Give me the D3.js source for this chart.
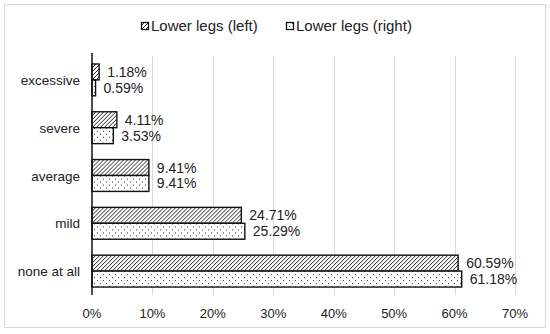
<!DOCTYPE html>
<html>
<head>
<meta charset="utf-8">
<script src="https://cdn.jsdelivr.net/npm/d3@7"></script>
<style>
  body { margin: 0; background: #fff; }
  text { font-family: "Liberation Sans", Arial, sans-serif; fill: #222; }
</style>
</head>
<body>
<div id="chart"></div>
<script>
var categories = ["excessive", "severe", "average", "mild", "none at all"];
var seriesNames = ["Lower legs (left)", "Lower legs (right)"];
var leftValues = [1.18, 4.11, 9.41, 24.71, 60.59];
var rightValues = [0.59, 3.53, 9.41, 25.29, 61.18];
var xTicks = [0, 10, 20, 30, 40, 50, 60, 70];

var width = 550, height = 334;
var plotTop = 56, plotBottom = 295, plotLeft = 92, plotRight = 515;

var svg = d3.select("#chart").append("svg")
    .attr("width", width)
    .attr("height", height);

// patterns
var defs = svg.append("defs");
var hatch = defs.append("pattern")
    .attr("id", "hatch")
    .attr("patternUnits", "userSpaceOnUse")
    .attr("width", 4).attr("height", 4);
hatch.append("rect").attr("width", 4).attr("height", 4).attr("fill", "#fff");
hatch.append("path")
    .attr("d", "M-1,1 l2,-2 M0,4 l4,-4 M3,5 l2,-2")
    .attr("stroke", "#222").attr("stroke-width", 1);

var dots = defs.append("pattern")
    .attr("id", "dots")
    .attr("patternUnits", "userSpaceOnUse")
    .attr("width", 6).attr("height", 6);
dots.append("rect").attr("width", 6).attr("height", 6).attr("fill", "#fff");
dots.append("rect").attr("x", 1).attr("y", 1).attr("width", 1).attr("height", 1).attr("fill", "#333");
dots.append("rect").attr("x", 4).attr("y", 4).attr("width", 1).attr("height", 1).attr("fill", "#333");

// outer border
svg.append("rect")
    .attr("x", 4.5).attr("y", 4.5)
    .attr("width", 541).attr("height", 323)
    .attr("fill", "#fff")
    .attr("stroke", "#d9d9d9");

var x = d3.scaleLinear()
    .domain([0, 70])
    .range([plotLeft, plotRight]);

var y = d3.scaleBand()
    .domain(categories)
    .range([plotTop, plotBottom])
    .paddingInner(1/3).paddingOuter(1/6);

var y1 = d3.scaleBand()
    .domain([0, 1])
    .range([0, y.bandwidth()]);

// gridlines
svg.append("g")
    .selectAll("line")
    .data(xTicks.slice(1))
  .enter()
    .append("line")
    .attr("x1", function(d){ return Math.round(x(d)) + 0.5; })
    .attr("x2", function(d){ return Math.round(x(d)) + 0.5; })
    .attr("y1", plotTop)
    .attr("y2", plotBottom)
    .attr("stroke", "#d9d9d9");

// x tick labels
svg.append("g")
    .selectAll("text")
    .data(xTicks)
  .enter()
    .append("text")
    .attr("x", function(d){ return x(d); })
    .attr("y", 318)
    .attr("text-anchor", "middle")
    .attr("font-size", "13px")
    .text(function(d){ return d + "%"; });

// bars
var rows = categories.map(function(c, i){
    return {cat: c, vals: [leftValues[i], rightValues[i]]};
});

var groups = svg.append("g").selectAll("g")
    .data(rows)
  .enter()
    .append("g")
    .attr("transform", function(d){ return "translate(0," + y(d.cat) + ")"; });

groups.selectAll("rect")
    .data(function(d){ return d.vals; })
  .enter()
    .append("rect")
    .attr("x", x(0))
    .attr("y", function(d, i){ return y1(i); })
    .attr("width", function(d){ return x(d) - x(0); })
    .attr("height", y1.bandwidth())
    .attr("fill", function(d, i){ return i === 0 ? "url(#hatch)" : "url(#dots)"; })
    .attr("stroke", "#111")
    .attr("stroke-width", 1.4);

groups.selectAll("text.val")
    .data(function(d){ return d.vals; })
  .enter()
    .append("text")
    .attr("class", "val")
    .attr("x", function(d){ return x(d) + 8; })
    .attr("y", function(d, i){ return y1(i) + y1.bandwidth() / 2 + 5; })
    .attr("font-size", "14px")
    .text(function(d){ return d.toFixed(2) + "%"; });

// category labels
svg.append("g").selectAll("text")
    .data(categories)
  .enter()
    .append("text")
    .attr("x", 80)
    .attr("y", function(d){ return y(d) + y.bandwidth() / 2 + 5; })
    .attr("text-anchor", "end")
    .attr("font-size", "13.5px")
    .text(function(d){ return d; });

// vertical axis line
svg.append("line")
    .attr("x1", x(0)).attr("x2", x(0))
    .attr("y1", plotTop - 3).attr("y2", plotBottom)
    .attr("stroke", "#111").attr("stroke-width", 1.5);

// legend
var legend = svg.append("g").attr("transform", "translate(141,22)");
var legendX = [0, 145];
legend.selectAll("rect")
    .data(seriesNames)
  .enter()
    .append("rect")
    .attr("x", function(d, i){ return legendX[i] + 0.5; })
    .attr("y", 0.5)
    .attr("width", 7).attr("height", 7)
    .attr("fill", function(d, i){ return i === 0 ? "url(#hatch)" : "url(#dots)"; })
    .attr("stroke", "#111").attr("stroke-width", 1.3);
legend.selectAll("text")
    .data(seriesNames)
  .enter()
    .append("text")
    .attr("x", function(d, i){ return legendX[i] + 10; })
    .attr("y", 9)
    .attr("font-size", "15px")
    .text(function(d){ return d; });
</script>
</body>
</html>
